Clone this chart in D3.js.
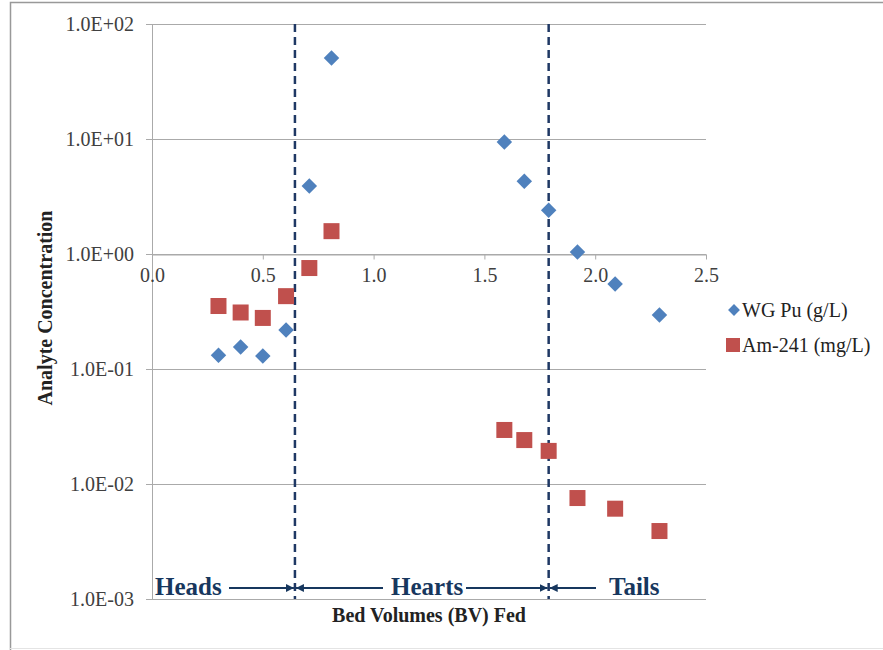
<!DOCTYPE html>
<html><head><meta charset="utf-8">
<script src="https://cdn.jsdelivr.net/npm/d3@7"></script>
<style>body{margin:0;background:#fff}svg{display:block}</style>
</head><body>
<script>
const puX = [0.30, 0.40, 0.50, 0.605, 0.71, 0.81, 1.59, 1.68, 1.79, 1.92, 2.09, 2.29];
const puY = [0.132, 0.155, 0.13, 0.218, 3.9, 50.6, 9.4, 4.3, 2.4, 1.04, 0.548, 0.295];
const amX = [0.30, 0.40, 0.50, 0.605, 0.71, 0.81, 1.59, 1.68, 1.79, 1.92, 2.09, 2.29];
const amY = [0.353, 0.31, 0.278, 0.43, 0.755, 1.58, 0.0295, 0.0241, 0.0194, 0.00755, 0.0061, 0.0039];
const xTicks = [0, 0.5, 1.0, 1.5, 2.0, 2.5];
const yTicks = [1e-3, 1e-2, 1e-1, 1e0, 1e1, 1e2];
const yTickLabels = ["1.0E-03","1.0E-02","1.0E-01","1.0E+00","1.0E+01","1.0E+02"];
const cutX = [0.645, 1.79];
const regionLabels = ["Heads","Hearts","Tails"];
const seriesNames = ["WG Pu (g/L)","Am-241 (mg/L)"];

const W=883,H=650;
const svg=d3.select("body").append("svg").attr("width",W).attr("height",H);
// frame
svg.append("path").attr("d","M10.5,650V2.5H883").attr("fill","none").attr("stroke","#999").attr("stroke-width",1.5);
svg.append("line").attr("x1",10).attr("x2",883).attr("y1",648.5).attr("y2",648.5).attr("stroke","#e4e4e4");

const x=d3.scaleLinear().domain([0,2.5]).range([152,706]);
const y=d3.scaleLog().domain([1e-3,1e2]).range([599,24]);
const serif="'Liberation Serif','Times New Roman',serif";
const tickCol="#404040";

// gridlines
svg.append("g").selectAll("line").data(yTicks).join("line")
 .attr("x1",146).attr("x2",706).attr("y1",d=>Math.round(y(d))+0.5).attr("y2",d=>Math.round(y(d))+0.5)
 .attr("stroke","#aaa").attr("stroke-width",1);
// left axis
svg.append("line").attr("x1",152.5).attr("x2",152.5).attr("y1",24).attr("y2",599).attr("stroke","#aaa");
// y tick labels
svg.append("g").selectAll("text").data(yTicks).join("text")
 .attr("x",134).attr("y",d=>y(d)+7).attr("text-anchor","end")
 .attr("font-family",serif).attr("font-size",20).attr("fill",tickCol)
 .text((d,i)=>yTickLabels[i]);
// x axis at y=1
const xa=svg.append("g").attr("transform",`translate(0,${Math.round(y(1))+0.5})`)
 .call(d3.axisBottom(x).tickValues(xTicks).tickFormat(d3.format(".1f")).tickSize(5).tickSizeOuter(0));
xa.select(".domain").attr("stroke","#aaa");
xa.selectAll(".tick line").attr("stroke","#aaa");
xa.selectAll(".tick text").attr("font-family",serif).attr("font-size",20).attr("fill",tickCol).attr("dy","0.95em");

// dashed cut lines
svg.append("g").selectAll("line").data(cutX).join("line")
 .attr("x1",d=>x(d)).attr("x2",d=>x(d)).attr("y1",24).attr("y2",599)
 .attr("stroke","#1F3864").attr("stroke-width",2.5).attr("stroke-dasharray","8,5");

// points
const diamond=d3.symbol().type(d3.symbolSquare).size(120);
svg.append("g").selectAll("path").data(puX.map((v,i)=>[v,puY[i]])).join("path")
 .attr("d",diamond).attr("transform",d=>`translate(${x(d[0])},${y(d[1])}) rotate(45)`)
 .attr("fill","#4F81BD");
svg.append("g").selectAll("rect").data(amX.map((v,i)=>[v,amY[i]])).join("rect")
 .attr("x",d=>x(d[0])-8).attr("y",d=>y(d[1])-8).attr("width",16).attr("height",16)
 .attr("fill","#C0504D");

// titles
svg.append("text").attr("x",429).attr("y",622).attr("text-anchor","middle")
 .attr("font-family",serif).attr("font-weight","bold").attr("font-size",20).attr("fill","#222")
 .text("Bed Volumes (BV) Fed");
svg.append("text").attr("transform","translate(52,308) rotate(-90)").attr("text-anchor","middle")
 .attr("font-family",serif).attr("font-weight","bold").attr("font-size",20).attr("fill","#222")
 .text("Analyte Concentration");

// legend
const lg=svg.append("g");
lg.append("path").attr("d",d3.symbol().type(d3.symbolSquare).size(70)).attr("transform","translate(734,310) rotate(45)").attr("fill","#4F81BD");
lg.append("rect").attr("x",726).attr("y",338).attr("width",14).attr("height",14).attr("fill","#C0504D");
lg.selectAll("text").data(seriesNames).join("text")
 .attr("x",742).attr("y",(d,i)=>317+i*35).attr("font-family",serif).attr("font-size",20).attr("fill","#222").text(d=>d);

// region annotations
const navy="#17375E";
const defs=svg.append("defs");
defs.append("marker").attr("id","ah").attr("viewBox","0 0 10 10").attr("refX",10).attr("refY",5)
 .attr("markerWidth",4).attr("markerHeight",4).attr("orient","auto-start-reverse")
 .append("path").attr("d","M0,0L10,5L0,10z").attr("fill",navy);
const ay=588;
const ann=svg.append("g").attr("font-family",serif).attr("font-weight","bold").attr("font-size",25).attr("fill",navy);
ann.append("text").attr("x",155).attr("y",595).text(regionLabels[0]);
ann.append("text").attr("x",391).attr("y",595).text(regionLabels[1]);
ann.append("text").attr("x",609).attr("y",595).text(regionLabels[2]);
const seg=[[229,x(cutX[0])-1,"end"],[x(cutX[0])+1,383,"start"],[466,x(cutX[1])-1,"end"],[x(cutX[1])+1,596,"start"]];
svg.append("g").selectAll("line").data(seg).join("line")
 .attr("x1",d=>d[0]).attr("x2",d=>d[1]).attr("y1",ay).attr("y2",ay)
 .attr("stroke",navy).attr("stroke-width",2)
 .attr("marker-end",d=>d[2]==="end"?"url(#ah)":null)
 .attr("marker-start",d=>d[2]==="start"?"url(#ah)":null);
</script>
</body></html>
